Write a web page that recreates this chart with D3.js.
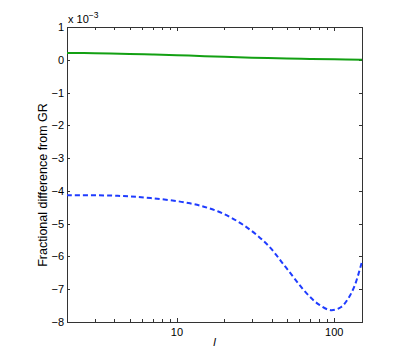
<!DOCTYPE html>
<html>
<head>
<meta charset="utf-8">
<script src="https://cdn.jsdelivr.net/npm/d3@7"></script>
<style>
  body { margin: 0; background: #fff; }
  svg { display: block; font-family: "Liberation Sans", Arial, sans-serif; }
</style>
</head>
<body>
<svg id="chart" width="415" height="362"></svg>
<script>
// multipole l and fractional difference (units of 1e-3)
const greenL = [2, 3, 5, 7, 10, 15, 20, 30, 50, 70, 100, 150];
const greenY = [0.21, 0.20, 0.18, 0.16, 0.14, 0.11, 0.09, 0.065, 0.04, 0.025, 0.015, 0.0];

const blueL = [2, 4.2, 6.8, 12.1, 18.3, 26.4, 37.2, 49.7, 66.5, 80, 95, 110, 122, 135, 150];
const blueY = [-4.13, -4.15, -4.22, -4.38, -4.63, -5.04, -5.62, -6.36, -7.12, -7.47, -7.64, -7.55, -7.30, -6.88, -6.15];

const yTicks = [1, 0, -1, -2, -3, -4, -5, -6, -7, -8];
const xTicks = [10, 100];
const xMinor = [2, 3, 4, 5, 6, 7, 8, 9, 20, 30, 40, 50, 60, 70, 80, 90];

const box = { left: 67, right: 362, top: 27, bottom: 322 };
const svg = d3.select('#chart');

const x = d3.scaleLog().domain([2, 150]).range([box.left, box.right]);
const y = d3.scaleLinear().domain([-8, 1]).range([box.bottom, box.top]);

const axisColor = '#333';
const tickLen = 3;
const fs = 11;

const g = svg.append('g');

// box
g.append('rect')
  .attr('x', box.left + 0.5).attr('y', box.top + 0.5)
  .attr('width', box.right - box.left).attr('height', box.bottom - box.top)
  .attr('fill', 'none').attr('stroke', axisColor).attr('stroke-width', 1);

// y ticks (left and right, inward)
yTicks.forEach(v => {
  const yy = Math.round(y(v)) + 0.5;
  g.append('line').attr('x1', box.left).attr('x2', box.left + tickLen).attr('y1', yy).attr('y2', yy).attr('stroke', axisColor);
  g.append('line').attr('x1', box.right - tickLen).attr('x2', box.right).attr('y1', yy).attr('y2', yy).attr('stroke', axisColor);
  g.append('text')
    .attr('x', box.left - 3).attr('y', y(v) + 4)
    .attr('text-anchor', 'end')
    .attr('font-size', fs)
    .attr('fill', '#000')
    .text(v < 0 ? '\u2212' + Math.abs(v) : String(v));
});

// x ticks (bottom and top, inward)
xTicks.concat(xMinor).forEach(v => {
  const xx = Math.round(x(v)) + 0.5;
  const len = xTicks.includes(v) ? tickLen + 1 : tickLen;
  g.append('line').attr('x1', xx).attr('x2', xx).attr('y1', box.bottom).attr('y2', box.bottom - len).attr('stroke', axisColor);
  g.append('line').attr('x1', xx).attr('x2', xx).attr('y1', box.top).attr('y2', box.top + len).attr('stroke', axisColor);
});
xTicks.forEach(v => {
  g.append('text')
    .attr('x', x(v)).attr('y', box.bottom + 14)
    .attr('text-anchor', 'middle')
    .attr('font-size', fs)
    .attr('fill', '#000')
    .text(v);
});

// exponent label
const ex = g.append('text').attr('x', box.left + 1).attr('y', box.top - 4).attr('font-size', fs).attr('fill', '#000');
ex.append('tspan').text('x 10');
ex.append('tspan').attr('dy', -5).attr('font-size', 8.5).text('\u22123');

// axis labels
g.append('text')
  .attr('x', (box.left + box.right) / 2).attr('y', 346)
  .attr('text-anchor', 'middle')
  .attr('font-size', 11.5).attr('font-style', 'italic')
  .text('l');

g.append('text')
  .attr('transform', 'translate(47,185) rotate(-90)')
  .attr('text-anchor', 'middle')
  .attr('font-size', 12.5)
  .text('Fractional difference from GR');

const line = d3.line()
  .x(d => x(d[0]))
  .y(d => y(d[1]))
  .curve(d3.curveCatmullRom.alpha(0.5));

g.append('path')
  .datum(greenL.map((l, i) => [l, greenY[i]]))
  .attr('d', line)
  .attr('fill', 'none')
  .attr('stroke', '#13a013')
  .attr('stroke-width', 2);

g.append('path')
  .datum(blueL.map((l, i) => [l, blueY[i]]))
  .attr('d', line)
  .attr('fill', 'none')
  .attr('stroke', '#1f3cff')
  .attr('stroke-width', 2)
  .attr('stroke-dasharray', '5,3');
</script>
</body>
</html>
